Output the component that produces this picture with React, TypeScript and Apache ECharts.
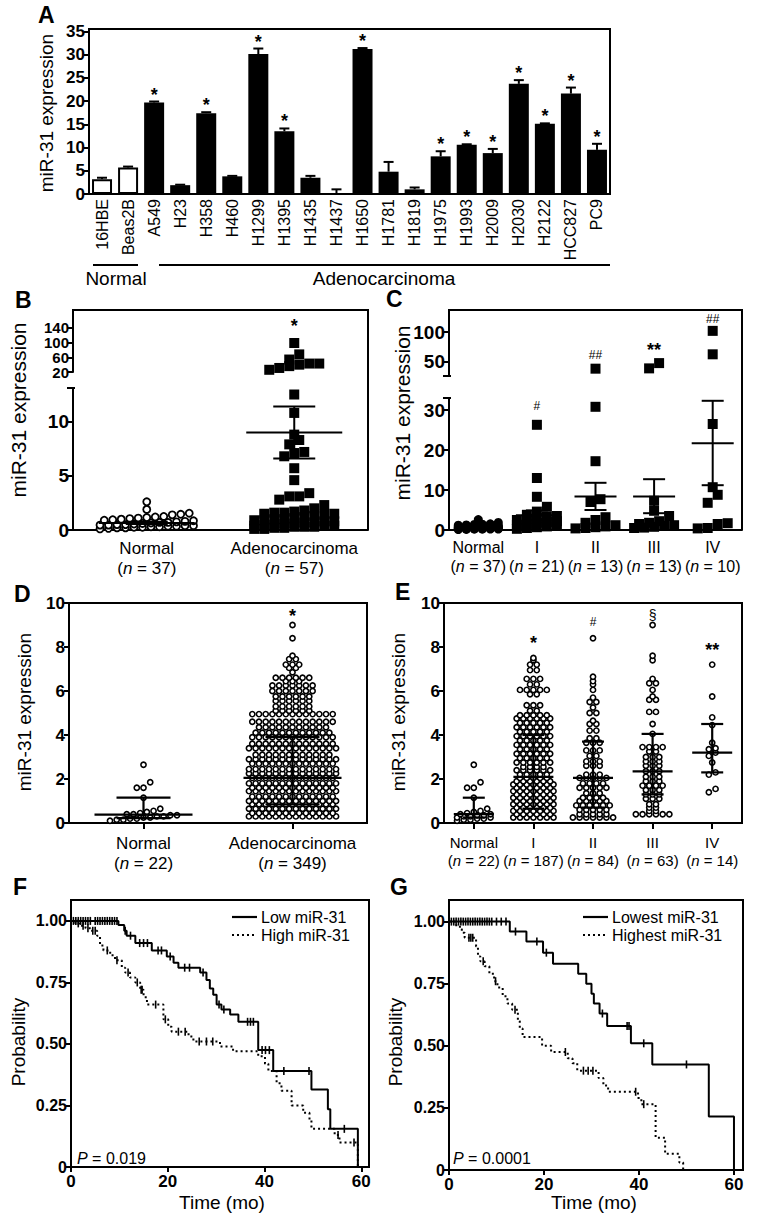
import React, { useEffect, useRef } from "react";
import * as echarts from "echarts";

const FONT = "'Liberation Sans', Arial, Helvetica, sans-serif";

// ---------------- Panel A : cell lines ----------------
const aCellLines = ["16HBE", "Beas2B", "A549", "H23", "H358", "H460", "H1299", "H1395", "H1435", "H1437", "H1650", "H1781", "H1819", "H1975", "H1993", "H2009", "H2030", "H2122", "HCC827", "PC9"];
const aGroup = ["Normal", "Normal", "Adeno", "Adeno", "Adeno", "Adeno", "Adeno", "Adeno", "Adeno", "Adeno", "Adeno", "Adeno", "Adeno", "Adeno", "Adeno", "Adeno", "Adeno", "Adeno", "Adeno", "Adeno"];
const aMean = [3.2, 5.7, 19.7, 1.9, 17.4, 3.8, 30.1, 13.5, 3.5, 0.1, 31.2, 4.8, 1.0, 8.1, 10.6, 8.8, 23.7, 15.1, 21.6, 9.5];
const aErr = [0.3, 0.2, 0.2, 0.1, 0.2, 0.1, 1.2, 0.6, 0.4, 0.9, 0.2, 2.1, 0.4, 1.1, 0.1, 0.9, 0.8, 0.1, 1.3, 1.3];
const aSig = ["", "", "*", "", "*", "", "*", "*", "", "", "*", "", "", "*", "*", "*", "*", "*", "*", "*"];

// ---------------- Panel B ----------------
const bCategories = ["Normal", "Adenocarcinoma"];
const bN = [37, 57];
const bNormal = [2.6, 1.9, 1.55, 1.45, 1.4, 1.25, 1.2, 1.15, 1.1, 1.05, 1.0, 0.95, 0.9, 0.85, 0.8, 0.75, 0.7, 0.7, 0.65, 0.6, 0.55, 0.5, 0.5, 0.45, 0.45, 0.4, 0.4, 0.35, 0.35, 0.3, 0.3, 0.25, 0.25, 0.2, 0.2, 0.15, 0.1];
const bAdeno = [99, 68, 54, 43, 43, 40, 36, 31, 26, 12.5, 10.8, 8.8, 8.3, 7.9, 7.2, 7.1, 6.8, 5.7, 4.6, 3.4, 3.1, 3.1, 2.8, 2.3, 2.0, 1.8, 1.7, 1.6, 1.6, 1.5, 1.5, 1.4, 1.3, 1.2, 1.1, 1.0, 1.0, 0.9, 0.9, 0.8, 0.8, 0.7, 0.7, 0.6, 0.6, 0.5, 0.5, 0.4, 0.4, 0.4, 0.3, 0.3, 0.3, 0.2, 0.2, 0.1, 0.1];
const bMean = [0.65, 9.0];
const bSemHigh = [0.76, 11.4];
const bSemLow = [0.55, 6.6];
const bSig = ["", "*"];
const bSigAt = [0, 145];
const bLowerMax = 13.1;
const bUpperTicksA = [20, 100];
const bUpperTicksB = [60, 140];

// ---------------- Panel C ----------------
const cCategories = ["Normal", "I", "II", "III", "IV"];
const cN = [37, 21, 13, 13, 10];
const cStageI = [26.3, 13.0, 8.3, 5.8, 4.6, 3.8, 3.5, 3.3, 3.0, 2.8, 2.5, 2.2, 2.0, 1.8, 1.5, 1.3, 1.1, 0.9, 0.7, 0.5, 0.3];
const cStageII = [37.5, 30.8, 17.2, 7.7, 7.0, 3.2, 2.5, 1.8, 1.2, 0.9, 0.7, 0.5, 0.4];
const cStageIII = [47, 38, 7.3, 4.8, 3.5, 2.2, 1.8, 1.5, 1.2, 1.0, 0.8, 0.6, 0.5];
const cStageIV = [102, 62, 26.5, 10.7, 8.8, 6.8, 1.7, 1.5, 0.5, 0.4];
const cMean = [0.7, 3.7, 8.4, 8.4, 21.7];
const cSemHigh = [0.8, 4.9, 11.8, 12.7, 32.3];
const cSemLow = [0.6, 2.5, 5.0, 4.2, 11.2];
const cSig = ["", "#", "##", "**", "##"];
const cSigAt = [0, 31, 60, 70, 123];
const cLowerMax = 33;
const cUpperTicks = [50, 100];

// ---------------- Panel D ----------------
const dCategories = ["Normal", "Adenocarcinoma"];
const dN = [22, 349];
const dNormal = [2.65, 1.85, 1.6, 1.6, 1.15, 0.65, 0.55, 0.5, 0.45, 0.4, 0.4, 0.35, 0.35, 0.3, 0.3, 0.25, 0.25, 0.2, 0.2, 0.15, 0.15, 0.1];
// rows of the swarm: [value, number of points in the row]
const dAdenoRows = [[0.3, 14], [0.45, 13], [0.65, 14], [0.85, 13], [1.0, 14], [1.2, 13], [1.45, 14], [1.6, 13], [1.8, 14], [2.05, 13], [2.25, 14], [2.45, 14], [2.7, 13], [2.9, 14], [3.1, 12], [3.4, 14], [3.6, 13], [3.9, 13], [4.1, 12], [4.35, 11], [4.6, 13], [4.95, 13], [5.1, 6], [5.3, 6], [5.55, 6], [5.75, 6], [6.0, 7], [6.25, 7], [6.45, 3], [6.6, 6], [6.85, 1], [7.05, 2], [7.2, 3], [7.45, 2], [7.6, 1], [8.4, 1], [9.0, 1]];
const dMedian = [0.38, 2.05];
const dIqrHigh = [1.15, 3.9];
const dIqrLow = [0.22, 0.85];
const dSig = ["", "*"];
const dSigAt = [0, 9.4];

// ---------------- Panel E ----------------
const eCategories = ["Normal", "I", "II", "III", "IV"];
const eN = [22, 187, 84, 63, 14];
const eStageIRows = [[0.25, 7], [0.4, 6], [0.55, 7], [0.7, 6], [0.85, 7], [1.0, 6], [1.15, 7], [1.3, 6], [1.45, 7], [1.6, 6], [1.75, 7], [1.9, 6], [2.05, 5], [2.2, 5], [2.4, 6], [2.55, 4], [2.75, 6], [2.95, 5], [3.15, 6], [3.35, 5], [3.55, 6], [3.75, 5], [3.95, 6], [4.15, 5], [4.35, 6], [4.55, 5], [4.75, 6], [4.9, 5], [5.1, 2], [5.35, 3], [5.85, 2], [6.05, 5], [6.3, 2], [6.55, 3], [6.95, 2], [7.2, 2], [7.4, 1], [7.5, 1]];
const eStageIIRows = [[0.25, 7], [0.4, 5], [0.6, 5], [0.8, 6], [1.0, 5], [1.15, 4], [1.35, 3], [1.6, 5], [1.8, 4], [2.05, 5], [2.2, 3], [2.6, 3], [2.8, 3], [3.05, 2], [3.3, 3], [3.65, 3], [3.85, 2], [4.2, 2], [4.5, 2], [4.65, 1], [5.0, 2], [5.25, 1], [5.5, 2], [5.7, 1], [6.05, 1], [6.3, 1], [6.45, 1], [6.65, 1], [8.4, 1]];
const eStageIIIRows = [[0.4, 6], [0.55, 2], [0.7, 2], [0.85, 2], [1.1, 3], [1.3, 3], [1.5, 3], [1.7, 4], [1.9, 3], [2.1, 3], [2.35, 3], [2.6, 3], [2.8, 3], [3.0, 3], [3.25, 2], [3.45, 4], [4.05, 1], [4.5, 1], [5.05, 2], [5.6, 2], [5.75, 1], [6.05, 1], [6.35, 2], [6.55, 1], [7.4, 1], [7.6, 1], [9.0, 1]];
const eStageIV = [7.2, 5.75, 4.8, 4.45, 3.65, 3.4, 3.35, 3.2, 3.05, 2.75, 2.3, 2.2, 1.55, 1.4];
const eMedian = [0.4, 2.1, 2.05, 2.35, 3.2];
const eIqrHigh = [1.15, 4.0, 3.7, 4.05, 4.5];
const eIqrLow = [0.25, 0.65, 0.7, 1.3, 2.3];
const eSig = ["", "*", "#", "§", "**"];
const eSigAt = [0, 8.2, 9.15, 9.45, 7.85];

// ---------------- Panel F : Kaplan-Meier ----------------
const fNames = ["Low miR-31", "High miR-31"];
const fLow = [[0, 1], [9.8, 0.983], [11.0, 0.96], [11.5, 0.94], [13.3, 0.91], [16.7, 0.88], [19.8, 0.855], [21.2, 0.83], [22.2, 0.81], [26.7, 0.79], [28.0, 0.76], [28.7, 0.725], [29.4, 0.7], [30.1, 0.66], [31.1, 0.64], [32.9, 0.62], [34.6, 0.59], [38.7, 0.475], [41.8, 0.39], [49.7, 0.315], [53.1, 0.235], [53.6, 0.155], [59.3, 0]];
const fLowCensor = [[0.5, 1], [1, 1], [1.5, 1], [2, 1], [2.5, 1], [3, 1], [3.5, 1], [4, 1], [5, 1], [5.5, 1], [6, 1], [6.5, 1], [7, 1], [7.5, 1], [8, 1], [8.5, 1], [9, 1], [9.5, 1], [11.2, 0.96], [12.3, 0.94], [14.2, 0.91], [15, 0.91], [15.8, 0.91], [18, 0.88], [18.7, 0.88], [20.5, 0.855], [23.5, 0.81], [24.5, 0.81], [27.3, 0.79], [30.6, 0.66], [31.6, 0.64], [36.5, 0.59], [37.1, 0.59], [37.7, 0.59], [39.5, 0.475], [40.2, 0.475], [41, 0.475], [44, 0.39], [49.2, 0.39], [56.5, 0.155]];
const fHigh = [[0, 1], [0.9, 0.99], [1.9, 0.98], [3.0, 0.97], [4.0, 0.96], [5.4, 0.94], [6.0, 0.9], [6.7, 0.88], [8.1, 0.86], [9.1, 0.84], [10.5, 0.81], [11.2, 0.79], [12.2, 0.77], [13.3, 0.75], [14.3, 0.72], [15.0, 0.69], [15.7, 0.66], [19.1, 0.6], [20.1, 0.57], [20.8, 0.55], [24.3, 0.53], [25.3, 0.51], [30.8, 0.49], [33.5, 0.47], [38.7, 0.45], [40.1, 0.42], [40.8, 0.39], [42.5, 0.34], [43.5, 0.31], [45.6, 0.25], [48.0, 0.22], [49.3, 0.19], [49.7, 0.155], [54.5, 0.13], [55.5, 0.1], [59.3, 0]];
const fHighCensor = [[1.5, 0.99], [2.5, 0.98], [3.5, 0.97], [4.5, 0.96], [5, 0.96], [7.5, 0.88], [9.5, 0.84], [11.8, 0.79], [13.7, 0.75], [14.5, 0.72], [14.7, 0.72], [17.5, 0.66], [19.5, 0.6], [22.2, 0.55], [23.6, 0.55], [26.5, 0.51], [28, 0.51], [29.3, 0.51], [55.2, 0.13], [58.5, 0.1]];
const fPValue = "0.019";

// ---------------- Panel G : Kaplan-Meier ----------------
const gNames = ["Lowest miR-31", "Highest miR-31"];
const gLowest = [[0, 1], [12.8, 0.96], [16.3, 0.92], [19.8, 0.875], [21.9, 0.83], [27.2, 0.79], [28.9, 0.75], [30.0, 0.71], [30.5, 0.67], [31.7, 0.63], [33.3, 0.58], [38.3, 0.51], [42.8, 0.425], [54.7, 0.215], [60.0, 0]];
const gLowestCensor = [[0.5, 1], [1, 1], [1.5, 1], [2, 1], [2.5, 1], [3, 1], [3.5, 1], [4, 1], [4.5, 1], [5, 1], [5.5, 1], [6, 1], [6.5, 1], [7, 1], [7.5, 1], [8, 1], [8.5, 1], [9, 1], [10, 1], [11, 1], [12, 1], [14, 0.96], [18.5, 0.92], [20.5, 0.875], [32.3, 0.63], [37.5, 0.58], [37.9, 0.58], [41, 0.51], [50, 0.425]];
const gHighest = [[0, 1], [1.3, 0.985], [2.3, 0.97], [2.7, 0.955], [3.3, 0.935], [5.7, 0.9], [6.1, 0.86], [6.6, 0.84], [7.5, 0.82], [8.5, 0.79], [9.5, 0.76], [10.2, 0.735], [11.3, 0.7], [12.3, 0.67], [13.3, 0.645], [14.5, 0.6], [14.9, 0.57], [15.5, 0.535], [19.6, 0.5], [21.5, 0.475], [25.0, 0.45], [26.0, 0.43], [27.0, 0.4], [31.5, 0.37], [32.5, 0.34], [33.5, 0.315], [39.8, 0.29], [40.5, 0.265], [43.5, 0.13], [45.5, 0.065], [48.5, 0.03], [49.3, 0]];
const gHighestCensor = [[4.2, 0.935], [4.6, 0.935], [5.0, 0.935], [7.2, 0.84], [9.8, 0.76], [13.9, 0.645], [24.5, 0.475], [28.3, 0.4], [29.3, 0.4], [30.3, 0.4], [39.3, 0.315], [41.0, 0.265]];
const gPValue = "0.0001";

// ---------------- helpers ----------------
function expandRows(rows: number[][]): number[] {
  const out: number[] = [];
  rows.forEach(([v, c]) => {
    for (let k = 0; k < c; k++) out.push(v);
  });
  return out;
}

// GraphPad-like row layout: points close in value share a row, centred on the category
function rowLayout(values: number[], pxPerUnit: number, diam: number, tolPx: number, maxPerRow: number) {
  const sorted = [...values].sort((a, b) => a - b);
  const out: { off: number; v: number }[] = [];
  let row: number[] = [];
  const flush = () => {
    const n = row.length;
    row.forEach((v, k) => out.push({ off: (k - (n - 1) / 2) * diam, v }));
    row = [];
  };
  for (const v of sorted) {
    if (row.length && (row.length >= maxPerRow || (v - row[0]) * pxPerUnit > tolPx)) flush();
    row.push(v);
  }
  if (row.length) flush();
  return out;
}

const axisLine = { show: true, onZero: false, lineStyle: { color: "#000", width: 2 } };
const yTick = { show: true, length: 5, lineStyle: { color: "#000", width: 2 } };
const yLabel = (size: number) => ({ color: "#000", fontWeight: "bold", fontSize: size, margin: 4, fontFamily: FONT, hideOverlap: false });
const catLabel = (ns: number[], size: number, margin: number) => ({
  interval: 0,
  margin,
  color: "#000",
  hideOverlap: false,
  formatter: (v: string, i: number) => `{a|${v}}\n{a|(}{i|n}{a| = ${ns[i]})}`,
  rich: {
    a: { fontSize: size, lineHeight: size + 3, color: "#000", fontFamily: FONT },
    i: { fontSize: size, lineHeight: size + 3, color: "#000", fontStyle: "italic", fontFamily: FONT },
  },
});

function buildOption() {
  const grids: any[] = [];
  const xAxes: any[] = [];
  const yAxes: any[] = [];
  const series: any[] = [];
  const graphics: any[] = [];
  const addGrid = (g: any) => (grids.push({ containLabel: false, ...g }), grids.length - 1);
  const addX = (a: any) => (xAxes.push(a), xAxes.length - 1);
  const addY = (a: any) => (yAxes.push({ splitLine: { show: false }, ...a }), yAxes.length - 1);

  const txt = (text: string, x: number, y: number, size: number, o: any = {}) => ({
    type: "text",
    x,
    y,
    rotation: o.rot || 0,
    silent: true,
    z: 20,
    style: {
      text,
      font: `${o.bold ? "bold " : ""}${o.italic ? "italic " : ""}${size}px ${FONT}`,
      fill: "#000",
      textAlign: o.align || "center",
      textVerticalAlign: "middle",
      align: o.align || "center",
      verticalAlign: "middle",
      rich: o.rich,
    },
  });
  const ln = (x1: number, y1: number, x2: number, y2: number, w = 2, dash?: number[]) => ({
    type: "line",
    silent: true,
    z: 20,
    shape: { x1, y1, x2, y2 },
    style: { stroke: "#000", lineWidth: w, lineDash: dash },
  });

  const openCircle = (size: number, bw: number) => ({ symbol: "circle", symbolSize: size, itemStyle: { color: "#fff", borderColor: "#000", borderWidth: bw, opacity: 1 } });
  const filledCircle = (size: number) => ({ symbol: "circle", symbolSize: size, itemStyle: { color: "#000", opacity: 1 } });
  const square = (size: number) => ({ symbol: "rect", symbolSize: size, itemStyle: { color: "#000", opacity: 1 } });

  const dotSeries = (vals: number[], cat: number, nCats: number, gridW: number, xi: number, yi: number, pxU: number, diam: number, tol: number, maxRow: number, sym: any) => ({
    type: "scatter",
    xAxisIndex: xi,
    yAxisIndex: yi,
    silent: true,
    z: 3,
    ...sym,
    data: rowLayout(vals, pxU, diam, tol, maxRow).map((p) => [cat + 0.5 + (p.off * nCats) / gridW, p.v]),
  });

  const statsSeries = (xi: number, yi: number, mid: number[], hi: number[], lo: number[], wMain: number, wSem: number, lw: number) => ({
    type: "custom",
    xAxisIndex: xi,
    yAxisIndex: yi,
    silent: true,
    z: 5,
    data: mid.map((m, i) => [i + 0.5, m, hi[i], lo[i]]),
    renderItem: (params: any, api: any) => {
      const x = api.value(0);
      const c = api.coord([x, api.value(1)]);
      const h = api.coord([x, api.value(2)]);
      const l = api.coord([x, api.value(3)]);
      const st = { stroke: "#000", lineWidth: lw };
      return {
        type: "group",
        children: [
          { type: "line", shape: { x1: c[0] - wMain, y1: c[1], x2: c[0] + wMain, y2: c[1] }, style: st },
          { type: "line", shape: { x1: h[0] - wSem, y1: h[1], x2: h[0] + wSem, y2: h[1] }, style: st },
          { type: "line", shape: { x1: l[0] - wSem, y1: l[1], x2: l[0] + wSem, y2: l[1] }, style: st },
          { type: "line", shape: { x1: h[0], y1: h[1], x2: l[0], y2: l[1] }, style: st },
        ],
      };
    },
  });

  const sigSeries = (xi: number, yi: number, labels: string[], at: number[], keep: (y: number) => boolean) => {
    const items = labels.map((s, i) => ({ s, x: i + 0.5, y: at[i] })).filter((d) => d.s && keep(d.y));
    return {
      type: "custom",
      xAxisIndex: xi,
      yAxisIndex: yi,
      silent: true,
      z: 6,
      data: items.map((d) => [d.x, d.y]),
      renderItem: (params: any, api: any) => {
        const p = api.coord([api.value(0), api.value(1)]);
        const s = items[params.dataIndex].s;
        const font = s.indexOf("*") >= 0 ? `bold 18px ${FONT}` : s === "§" ? `14px ${FONT}` : `12px ${FONT}`;
        return { type: "text", x: p[0], y: p[1], style: { text: s, font, fill: "#000", textAlign: "center", textVerticalAlign: "middle", align: "center", verticalAlign: "middle" } };
      },
    };
  };

  // ================= A =================
  const A = { left: 89, top: 29, width: 521, height: 165 };
  const gA = addGrid({ ...A, show: true, borderColor: "#000", borderWidth: 2 });
  const xA = addX({ type: "category", gridIndex: gA, data: aCellLines, axisLine, axisTick: { show: false }, axisLabel: { rotate: 90, fontSize: 16, color: "#000", margin: 5, interval: 0, fontFamily: FONT, hideOverlap: false } });
  const yA = addY({ type: "value", gridIndex: gA, min: 0, max: 35.5, interval: 5, axisLine, axisTick: yTick, axisLabel: { ...yLabel(17), showMaxLabel: false } });
  series.push({
    type: "bar",
    xAxisIndex: xA,
    yAxisIndex: yA,
    barWidth: 20,
    silent: true,
    data: aMean.map((v, i) => ({ value: v, itemStyle: aGroup[i] === "Normal" ? { color: "#fff", borderColor: "#000", borderWidth: 2 } : { color: "#000" } })),
  });
  series.push({
    type: "custom",
    xAxisIndex: xA,
    yAxisIndex: yA,
    silent: true,
    z: 5,
    data: aMean.map((m, i) => [i, m, m + aErr[i]]),
    renderItem: (params: any, api: any) => {
      const i = api.value(0);
      const p0 = api.coord([i, api.value(1)]);
      const p1 = api.coord([i, api.value(2)]);
      const st = { stroke: "#000", lineWidth: 2 };
      const ch: any[] = [
        { type: "line", shape: { x1: p0[0], y1: p0[1], x2: p1[0], y2: p1[1] }, style: st },
        { type: "line", shape: { x1: p1[0] - 5, y1: p1[1], x2: p1[0] + 5, y2: p1[1] }, style: st },
      ];
      const s = aSig[params.dataIndex];
      if (s) ch.push({ type: "text", x: p1[0], y: p1[1] + 2, style: { text: s, font: `bold 18px ${FONT}`, fill: "#000", textAlign: "center", textVerticalAlign: "bottom", align: "center", verticalAlign: "bottom" } });
      return { type: "group", children: ch };
    },
  });
  graphics.push(txt("A", 38, 15, 23, { bold: true, align: "left" }));
  graphics.push(txt("miR-31 expression", 46, 113, 19, { rot: Math.PI / 2 }));
  graphics.push(ln(93, 265, 138, 265));
  graphics.push(ln(159, 265, 610, 265));
  graphics.push(txt("Normal", 116, 278, 19));
  graphics.push(txt("Adenocarcinoma", 384, 278, 19));

  // ================= B (broken axis) =================
  const B = { left: 73, width: 295, top: 310, upH: 62, lowTop: 388, lowH: 142 };
  const bUpMin = 20;
  const bUpMax = 189;
  const gBu = addGrid({ left: B.left, top: B.top, width: B.width, height: B.upH });
  const gBl = addGrid({ left: B.left, top: B.lowTop, width: B.width, height: B.lowH });
  const xBu = addX({ type: "value", gridIndex: gBu, min: 0, max: 2, show: false });
  // the upper scale's ticks are split over two overlaid axes so that the tightly packed labels are all kept
  const upperAxis = (ticks: number[], showLine: boolean) => ({
    type: "value", gridIndex: gBu, position: "left", offset: 0, min: bUpMin, max: bUpMax, interval: 40,
    axisLine: showLine ? axisLine : { show: false },
    axisTick: { ...yTick, customValues: ticks },
    axisLabel: { ...yLabel(15), customValues: ticks, showMinLabel: true, showMaxLabel: true, formatter: (v: number) => (ticks.indexOf(v) >= 0 ? String(v) : "") },
  });
  const yBu = addY(upperAxis(bUpperTicksA, true));
  addY(upperAxis(bUpperTicksB, false));
  addX({ type: "category", gridIndex: gBl, data: bCategories, axisLine, axisTick: { show: false }, axisLabel: catLabel(bN, 17, 8) });
  const xBl = addX({ type: "value", gridIndex: gBl, min: 0, max: 2, show: false });
  const yBl = addY({ type: "value", gridIndex: gBl, min: 0, max: bLowerMax, interval: 5, axisLine, axisTick: yTick, axisLabel: { ...yLabel(19), showMaxLabel: false, formatter: (v: number) => (v % 5 === 0 ? String(v) : "") } });
  const bPxLow = B.lowH / bLowerMax;
  const bPxUp = B.upH / (bUpMax - bUpMin);
  series.push(dotSeries(bNormal, 0, 2, B.width, xBl, yBl, bPxLow, 8.5, 7.5, 12, openCircle(7, 1.8)));
  series.push(dotSeries(bAdeno.filter((v) => v <= bLowerMax), 1, 2, B.width, xBl, yBl, bPxLow, 10, 9, 9, square(10)));
  series.push(dotSeries(bAdeno.filter((v) => v > bLowerMax), 1, 2, B.width, xBu, yBu, bPxUp, 10, 9, 9, square(10)));
  series.push(statsSeries(xBl, yBl, bMean, bSemHigh, bSemLow, 48, 21, 2));
  series.push(sigSeries(xBu, yBu, bSig, bSigAt, () => true));
  graphics.push(ln(B.left - 1, B.top, B.left + B.width, B.top));
  graphics.push(ln(B.left + B.width, B.top - 1, B.left + B.width, B.lowTop + B.lowH));
  graphics.push(ln(B.left - 6, B.lowTop, B.left + 2, B.lowTop));
  graphics.push(txt("B", 15, 300, 23, { bold: true, align: "left" }));
  graphics.push(txt("miR-31 expression", 18, 410, 21, { rot: Math.PI / 2 }));

  // ================= C (broken axis) =================
  const C = { left: 449, width: 293, top: 310, upH: 66, lowTop: 398, lowH: 132 };
  const cUpMin = 25;
  const cUpMax = 137.6;
  const gCu = addGrid({ left: C.left, top: C.top, width: C.width, height: C.upH });
  const gCl = addGrid({ left: C.left, top: C.lowTop, width: C.width, height: C.lowH });
  const xCu = addX({ type: "value", gridIndex: gCu, min: 0, max: 5, show: false });
  const yCu = addY({
    type: "value", gridIndex: gCu, min: cUpMin, max: cUpMax, interval: 25, axisLine,
    axisTick: { ...yTick, customValues: cUpperTicks },
    axisLabel: { ...yLabel(19), customValues: cUpperTicks, showMinLabel: true, showMaxLabel: true, formatter: (v: number) => (cUpperTicks.indexOf(v) >= 0 ? String(v) : "") },
  });
  addX({ type: "category", gridIndex: gCl, data: cCategories, axisLine, axisTick: { show: false }, axisLabel: catLabel(cN, 16, 8) });
  const xCl = addX({ type: "value", gridIndex: gCl, min: 0, max: 5, show: false });
  const yCl = addY({ type: "value", gridIndex: gCl, min: 0, max: cLowerMax, interval: 10, axisLine, axisTick: yTick, axisLabel: { ...yLabel(19), showMaxLabel: false, formatter: (v: number) => (v % 10 === 0 ? String(v) : "") } });
  const cPxLow = C.lowH / cLowerMax;
  const cPxUp = C.upH / (cUpMax - cUpMin);
  series.push(dotSeries(bNormal, 0, 5, C.width, xCl, yCl, cPxLow, 8, 8, 6, filledCircle(9)));
  [cStageI, cStageII, cStageIII, cStageIV].forEach((vals, k) => {
    series.push(dotSeries(vals.filter((v) => v <= cLowerMax), k + 1, 5, C.width, xCl, yCl, cPxLow, 10, 9, 5, square(10)));
    const up = vals.filter((v) => v > cLowerMax);
    if (up.length) series.push(dotSeries(up, k + 1, 5, C.width, xCu, yCu, cPxUp, 10, 9, 5, square(10)));
  });
  series.push(statsSeries(xCl, yCl, cMean, cSemHigh, cSemLow, 21, 11, 2));
  series.push(sigSeries(xCl, yCl, cSig, cSigAt, (y) => y <= cLowerMax));
  series.push(sigSeries(xCu, yCu, cSig, cSigAt, (y) => y > cLowerMax));
  graphics.push(ln(C.left - 1, C.top, C.left + C.width, C.top));
  graphics.push(ln(C.left + C.width, C.top - 1, C.left + C.width, C.lowTop + C.lowH));
  graphics.push(ln(C.left - 6, C.top + C.upH, C.left + 2, C.top + C.upH));
  graphics.push(ln(C.left - 6, C.lowTop, C.left + 2, C.lowTop));
  graphics.push(txt("C", 386, 299, 23, { bold: true, align: "left" }));
  graphics.push(txt("miR-31 expression", 402, 413, 21, { rot: Math.PI / 2 }));

  // ================= D =================
  const D = { left: 69, top: 603, width: 298, height: 220 };
  const gD = addGrid({ ...D, show: true, borderColor: "#000", borderWidth: 2 });
  addX({ type: "category", gridIndex: gD, data: dCategories, axisLine, axisTick: { show: true, alignWithLabel: true, length: 6, lineStyle: { color: "#000", width: 2 } }, axisLabel: catLabel(dN, 17, 10) });
  const xD = addX({ type: "value", gridIndex: gD, min: 0, max: 2, show: false });
  const yD = addY({ type: "value", gridIndex: gD, min: 0, max: 10, interval: 2, axisLine, axisTick: yTick, axisLabel: yLabel(17) });
  const dPx = D.height / 10;
  series.push(dotSeries(dNormal, 0, 2, D.width, xD, yD, dPx, 6.7, 6, 14, openCircle(5.2, 1.6)));
  series.push(dotSeries(expandRows(dAdenoRows), 1, 2, D.width, xD, yD, dPx, 6.7, 0, 99, openCircle(5.2, 1.6)));
  series.push(statsSeries(xD, yD, dMedian, dIqrHigh, dIqrLow, 49, 27, 2.2));
  series.push(sigSeries(xD, yD, dSig, dSigAt, () => true));
  graphics.push(txt("D", 14, 594, 23, { bold: true, align: "left" }));
  graphics.push(txt("miR-31 expression", 24, 712, 19, { rot: Math.PI / 2 }));

  // ================= E =================
  const E = { left: 444, top: 603, width: 298, height: 220 };
  const gE = addGrid({ ...E, show: true, borderColor: "#000", borderWidth: 2 });
  addX({ type: "category", gridIndex: gE, data: eCategories, axisLine, axisTick: { show: true, alignWithLabel: true, length: 6, lineStyle: { color: "#000", width: 2 } }, axisLabel: catLabel(eN, 15, 10) });
  const xE = addX({ type: "value", gridIndex: gE, min: 0, max: 5, show: false });
  const yE = addY({ type: "value", gridIndex: gE, min: 0, max: 10, interval: 2, axisLine, axisTick: yTick, axisLabel: yLabel(17) });
  const ePx = E.height / 10;
  series.push(dotSeries(dNormal, 0, 5, E.width, xE, yE, ePx, 6.7, 6, 6, openCircle(5.2, 1.6)));
  [eStageIRows, eStageIIRows, eStageIIIRows].forEach((rows, k) => {
    series.push(dotSeries(expandRows(rows), k + 1, 5, E.width, xE, yE, ePx, 6.7, 0, 99, openCircle(5.2, 1.6)));
  });
  series.push(dotSeries(eStageIV, 4, 5, E.width, xE, yE, ePx, 6.7, 6, 4, openCircle(5.2, 1.6)));
  series.push(statsSeries(xE, yE, eMedian, eIqrHigh, eIqrLow, 20, 11, 2.2));
  series.push(sigSeries(xE, yE, eSig, eSigAt, () => true));
  graphics.push(txt("E", 395, 592, 23, { bold: true, align: "left" }));
  graphics.push(txt("miR-31 expression", 398, 712, 19, { rot: Math.PI / 2 }));

  // ================= F & G =================
  const km = (box: any, legendX: number, low: number[][], lowC: number[][], high: number[][], highC: number[][], names: string[], xMax: number, yMax: number) => {
    const g = addGrid({ ...box, show: true, borderColor: "#000", borderWidth: 2 });
    const xi = addX({ type: "value", gridIndex: g, min: 0, max: xMax, interval: 20, axisLine, axisTick: { ...yTick }, splitLine: { show: false }, axisLabel: { color: "#000", fontWeight: "bold", fontSize: 17, margin: 6, fontFamily: FONT, showMaxLabel: false, hideOverlap: false } });
    const yi = addY({ type: "value", gridIndex: g, min: 0, max: yMax, interval: 0.25, axisLine, axisTick: yTick, axisLabel: { ...yLabel(16), showMaxLabel: false, formatter: (v: number) => (v === 0 ? "0" : v.toFixed(2)) } });
    const line = (name: string, data: number[][], dotted: boolean) => ({
      type: "line",
      name,
      xAxisIndex: xi,
      yAxisIndex: yi,
      data,
      step: "end",
      symbol: "none",
      silent: true,
      z: 3,
      itemStyle: { color: "#000" },
      lineStyle: { color: "#000", width: 2, type: dotted ? [2, 3] : "solid" },
    });
    const cens = (data: number[][]) => ({ type: "scatter", xAxisIndex: xi, yAxisIndex: yi, data, symbol: "rect", symbolSize: [1.6, 8], itemStyle: { color: "#000", opacity: 1 }, silent: true, z: 4 });
    series.push(line(names[0], low, false), line(names[1], high, true), cens(lowC), cens(highC));
    // legend drawn as graphic: short line sample + series name
    graphics.push(ln(legendX, 917, legendX + 25, 917, 2.2));
    graphics.push(ln(legendX, 935, legendX + 25, 935, 2.2, [2, 3]));
    graphics.push(txt(names[0], legendX + 29, 917, 16, { align: "left" }));
    graphics.push(txt(names[1], legendX + 29, 935, 16, { align: "left" }));
  };
  km({ left: 71, top: 900, width: 298, height: 267 }, 232, fLow, fLowCensor, fHigh, fHighCensor, fNames, 61.6, 1.085);
  km({ left: 449, top: 900, width: 294, height: 270 }, 583, gLowest, gLowestCensor, gHighest, gHighestCensor, gNames, 61.9, 1.087);
  graphics.push(txt("F", 13, 887, 23, { bold: true, align: "left" }));
  graphics.push(txt("G", 390, 887, 23, { bold: true, align: "left" }));
  graphics.push(txt("Probability", 18, 1042, 19, { rot: Math.PI / 2 }));
  graphics.push(txt("Probability", 395, 1042, 19, { rot: Math.PI / 2 }));
  graphics.push(txt("Time (mo)", 222, 1202, 19));
  graphics.push(txt("Time (mo)", 594, 1202, 19));
  const pRich = { i: { fontStyle: "italic", fontSize: 16, fontFamily: FONT, fill: "#000" }, r: { fontSize: 16, fontFamily: FONT, fill: "#000" } };
  graphics.push(txt(`{i|P}{r| = ${fPValue}}`, 77, 1158, 16, { align: "left", rich: pRich }));
  graphics.push(txt(`{i|P}{r| = ${gPValue}}`, 453, 1158, 16, { align: "left", rich: pRich }));

  return {
    animation: false,
    backgroundColor: "#fff",
    textStyle: { fontFamily: FONT, color: "#000" },
    grid: grids,
    xAxis: xAxes,
    yAxis: yAxes,
    series,
    graphic: graphics,
  };
}

export default function App() {
  const ref = useRef<HTMLDivElement>(null);
  useEffect(() => {
    document.body.style.margin = "0";
    const chart = echarts.init(ref.current as HTMLDivElement, undefined, { renderer: "svg" });
    chart.setOption(buildOption() as any);
    return () => chart.dispose();
  }, []);
  return <div ref={ref} style={{ width: 760, height: 1225 }} />;
}
